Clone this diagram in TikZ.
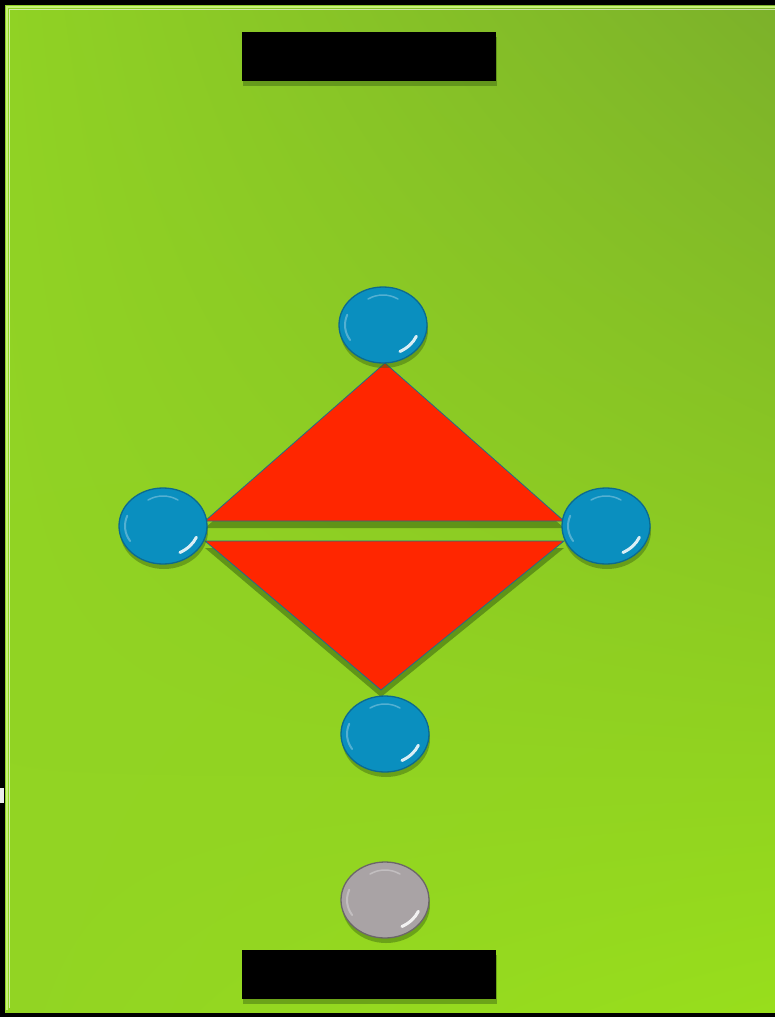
\documentclass[tikz,border=0pt]{standalone}
\usetikzlibrary{shadows,shapes.geometric,shadings}
\definecolor{ballblue}{HTML}{0A8FBF}
\definecolor{balledge}{HTML}{0B6A90}
\definecolor{ballgray}{HTML}{A9A3A5}
\definecolor{grayedge}{HTML}{6B6668}
\definecolor{tri}{HTML}{FF2600}
\definecolor{triedge}{HTML}{1F6E8A}
\definecolor{gUL}{HTML}{90D224}
\definecolor{gUR}{HTML}{7CB12A}
\definecolor{gLL}{HTML}{92D423}
\definecolor{gLR}{HTML}{98DE1C}
\definecolor{bevel}{HTML}{C8F27A}
\definecolor{shadowgreen}{HTML}{3A6410}
\begin{document}
\begin{tikzpicture}[x=1pt,y=-1pt,
  ball/.style={ellipse,minimum width=88pt,minimum height=76pt,inner sep=0pt,
    line width=1.3pt,
    drop shadow={shadow xshift=1pt,shadow yshift=-5pt,opacity=0.45,fill=shadowgreen}},
  blueball/.style={ball,fill=ballblue,draw=balledge},
  grayball/.style={ball,fill=ballgray,draw=grayedge},
  bar/.style={rectangle,fill=black,minimum width=254pt,minimum height=49pt,inner sep=0pt,
    drop shadow={shadow xshift=1pt,shadow yshift=-5pt,opacity=0.45,fill=shadowgreen}},
  trishape/.style={fill=tri,draw=triedge,line width=0.8pt,
    drop shadow={shadow xshift=0pt,shadow yshift=-7pt,opacity=0.55,fill=shadowgreen}},
  shine/.style={white,line width=3pt,line cap=round,opacity=0.85},
  glow/.style={white,line width=2pt,line cap=round,opacity=0.3}
]
\useasboundingbox (0,0) rectangle (775,1017);
\fill[black] (0,0) rectangle (775,1017);
% green board
\shade[upper left=gUL,upper right=gUR,lower left=gLL,lower right=gLR] (5,5) rectangle (775,1012);
% bevel
\draw[bevel,line width=2.5pt] (7,1010) -- (7,7) -- (775,7);
\draw[white,opacity=0.6,line width=0.8pt] (9,1008) -- (9,9) -- (775,9);
% tick at left
\fill[white!85!gray] (0,788) rectangle (4,803);

% bars
\node[bar] (topbar) at (369,56.5) {};
\node[bar] (botbar) at (369,974.5) {};

% triangles
\coordinate (ul) at (205,521);
\coordinate (ur) at (564,521);
\coordinate (ll) at (205,541);
\coordinate (lr) at (564,541);
\coordinate (ta) at (385,363);
\coordinate (ba) at (381,690);
\path[trishape] (ul) -- (ta) -- (ur) -- cycle;
\path[trishape] (ll) -- (lr) -- (ba) -- cycle;

% balls
\node[blueball] (ntop) at (383,325) {};
\node[blueball] (nleft) at (163,526) {};
\node[blueball] (nright) at (606,526) {};
\node[blueball] (nbot) at (385,734) {};
\node[grayball] (ngray) at (385,900) {};

\foreach \b in {ntop,nleft,nright,nbot,ngray}{
  \draw[shine] ([shift={(22:36 and 30)}]\b.center) arc[start angle=22,end angle=62,x radius=36,y radius=30];
  \draw[glow] ([shift={(150:38 and 30)}]\b.center) arc[start angle=150,end angle=200,x radius=38,y radius=30];
  \draw[glow,line width=1.5pt] ([shift={(240:30 and 30)}]\b.center) arc[start angle=240,end angle=300,x radius=30,y radius=30];
}
\end{tikzpicture}
\end{document}
